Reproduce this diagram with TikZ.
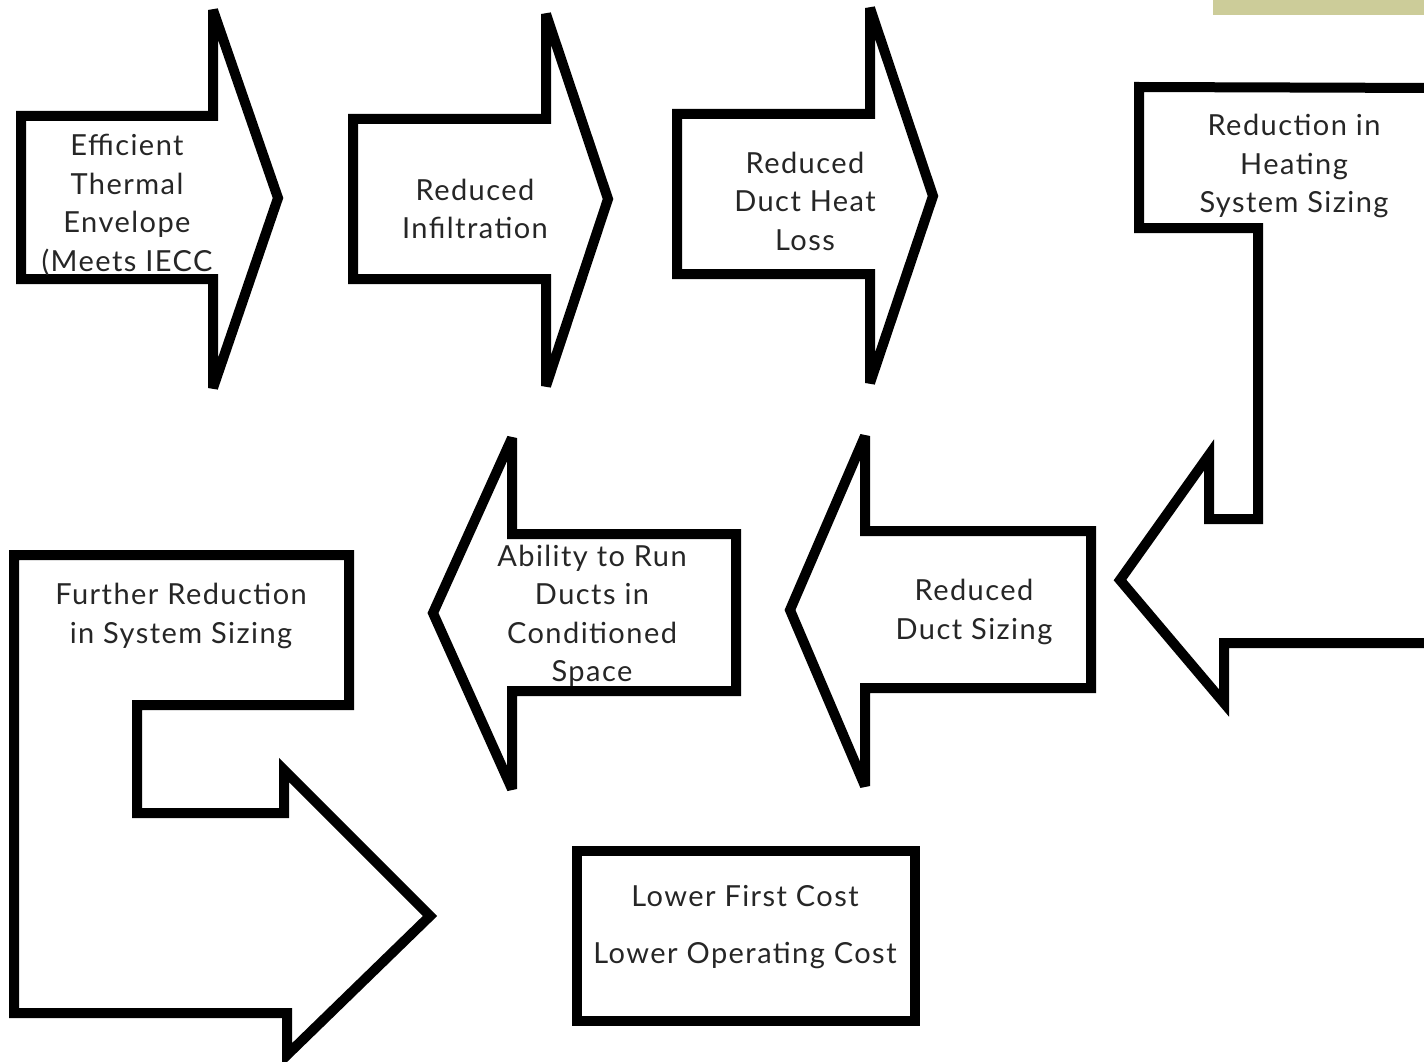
\documentclass[tikz,border=0pt]{standalone}
\usepackage{fontspec}
\setmainfont{Lato}[LetterSpace=5]
\begin{document}
\begin{tikzpicture}[x=1pt,y=-1pt,
  shapeline/.style={draw=black,line width=10pt,line join=miter,miter limit=4,fill=white},
  lbl/.style={align=center,text=black!85,font=\fontsize{29}{38.5}\selectfont,inner sep=0pt}]
\useasboundingbox (0,0) rectangle (1424,1062);
\clip (0,0) rectangle (1424,1062);
\fill[white] (0,0) rectangle (1424,1062);
% khaki bar
\fill[fill={rgb,255:red,204;green,204;blue,153}] (1213,0) rectangle (1424,15);
% arrow 1
\path[shapeline] (21,116) -- (213,116) -- (213,10) -- (278,198) -- (213,388) -- (213,279) -- (21,279) -- cycle;
\node[lbl] (a1) at (127,205) {Efficient\\Thermal\\Envelope\\(Meets IECC};
% arrow 2
\path[shapeline] (353,119) -- (546,119) -- (546,14) -- (608,199) -- (546,386) -- (546,279) -- (353,279) -- cycle;
\node[lbl] (a2) at (475,209) {Reduced\\Infiltration};
% arrow 3
\path[shapeline] (677,114) -- (870,114) -- (870,8) -- (933,196) -- (870,383) -- (870,274) -- (677,274) -- cycle;
\node[lbl] (a3) at (805,201) {Reduced\\Duct Heat\\Loss};
% arrow 4 (bent, right edge)
\path[shapeline] (1440,88) -- (1139,87) -- (1139,228) -- (1258,228) -- (1258,519) -- (1209,519) -- (1209,455) -- (1120,580) -- (1224,703) -- (1224,643) -- (1440,643);
\node[lbl] (a4) at (1294,166) {Reduction in\\Heating\\System Sizing};
% arrow 5
\path[shapeline] (1091,531) -- (865,531) -- (865,436) -- (790,610) -- (865,786) -- (865,688) -- (1091,688) -- cycle;
\node[lbl] (a5) at (974,612) {Reduced\\Duct Sizing};
% arrow 6
\path[shapeline] (736,534) -- (512,534) -- (512,438) -- (433,613) -- (512,789) -- (512,691) -- (736,691) -- cycle;
\node[lbl] (a6) at (592,616) {Ability to Run\\Ducts in\\Conditioned\\Space};
% arrow 7 (bent)
\path[shapeline] (14,555) -- (349,555) -- (349,705) -- (137,705) -- (137,813) -- (284,813) -- (284,770) -- (430,916) -- (287,1055) -- (287,1013) -- (14,1013) -- cycle;
\node[lbl] (a7) at (181,616) {Further Reduction\\in System Sizing};
% box 8
\path[shapeline] (577,851) rectangle (915,1021);
\node[lbl,font=\fontsize{29}{57}\selectfont] (a8) at (745,927) {Lower First Cost\\Lower Operating Cost};
\end{tikzpicture}
\end{document}
